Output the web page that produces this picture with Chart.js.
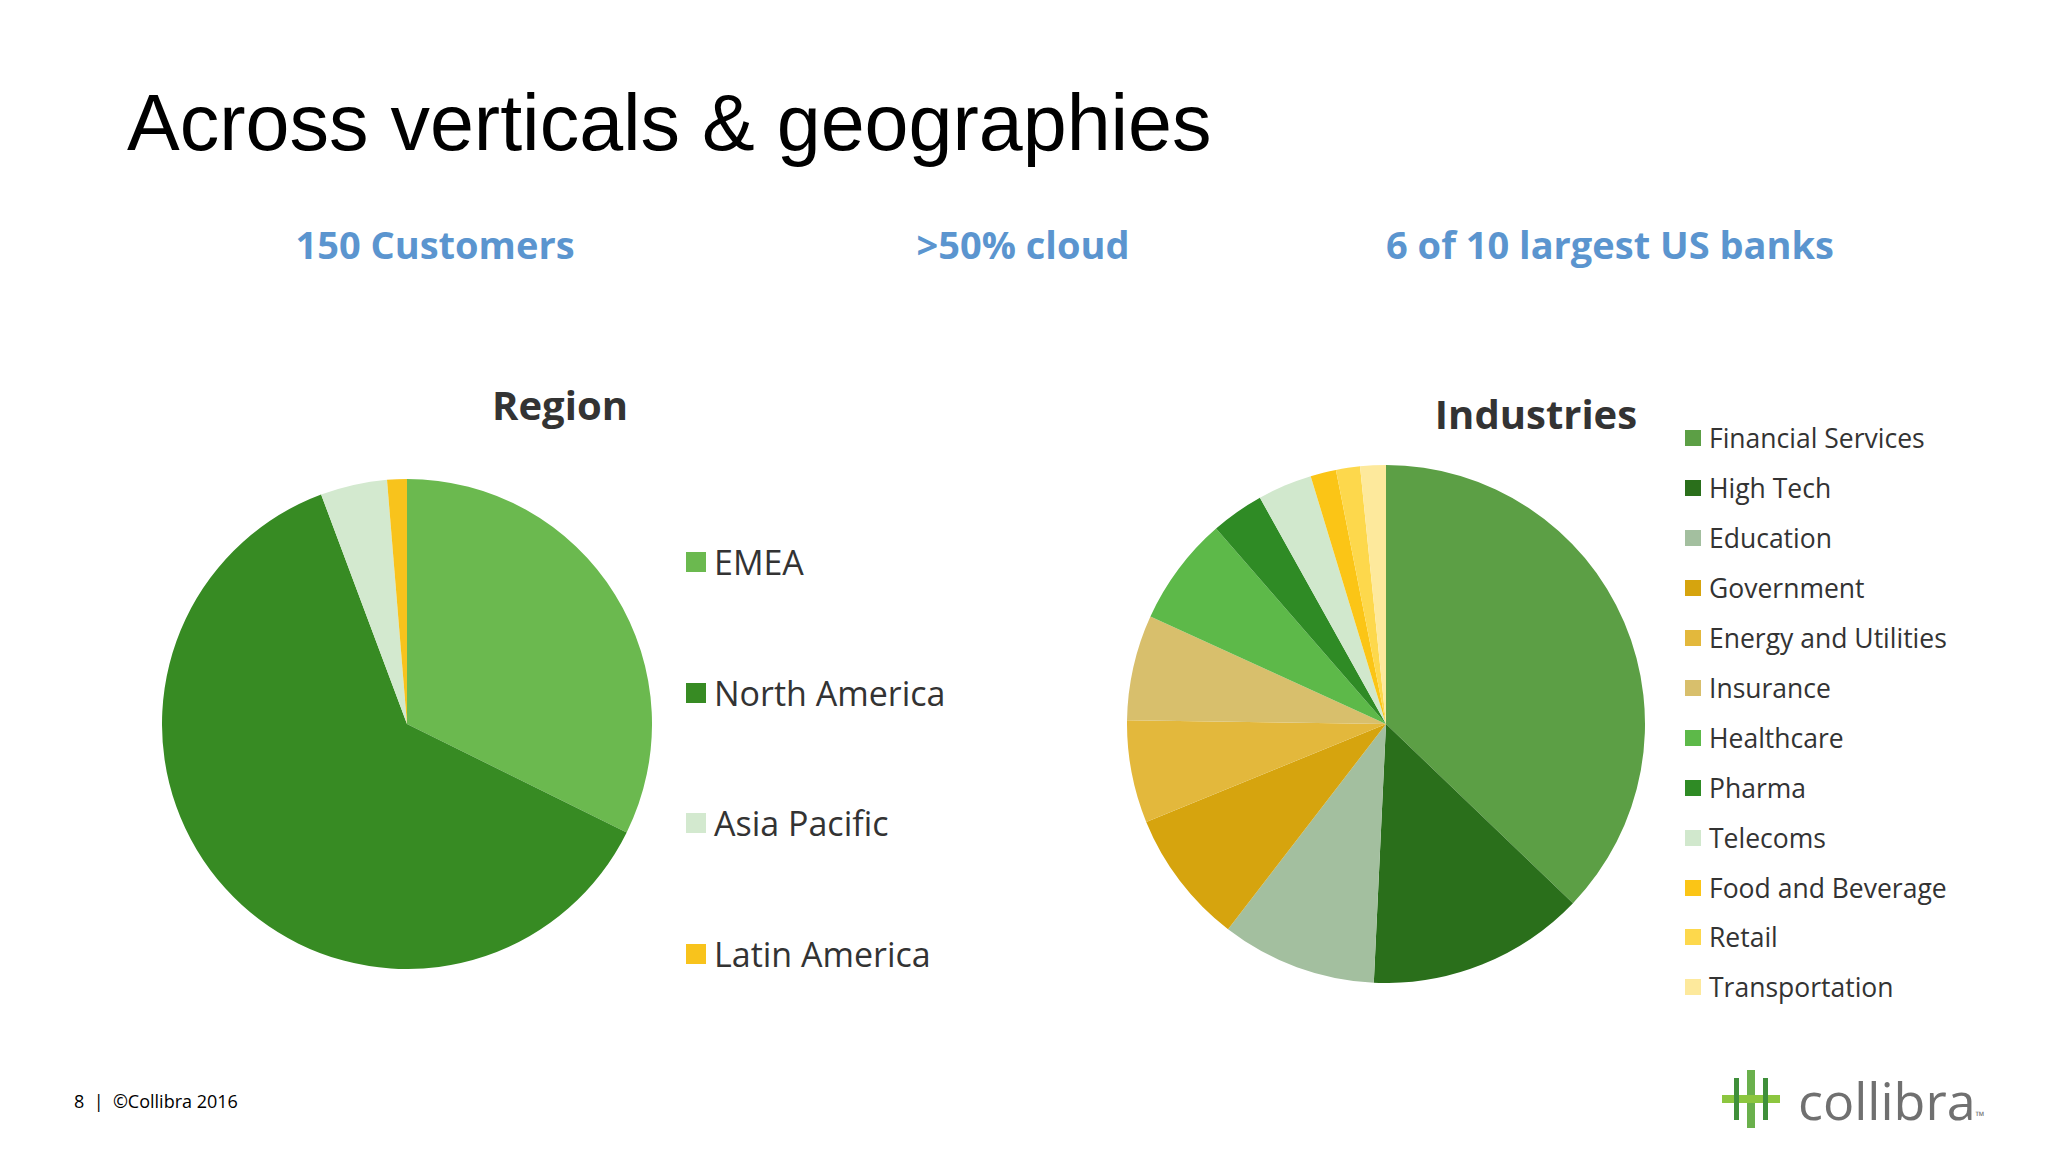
<!DOCTYPE html>
<html lang="en">
<head>
<meta charset="UTF-8">
<title>Across verticals &amp; geographies</title>
<script src="https://cdn.jsdelivr.net/npm/chart.js"></script>
<style>
  body { margin:0; width:2048px; height:1152px; background:#fff; position:relative; overflow:hidden; font-family:"Open Sans", sans-serif; }
  .abs { position:absolute; }
  h1 { position:absolute; left:127px; top:77px; margin:0; font-family:"Liberation Sans", Arial, sans-serif; font-weight:normal; font-size:79px; color:#000; }
  .sub { position:absolute; top:218px; transform:translateX(-50%); font-weight:bold; font-size:38px; color:#5b95cf; white-space:nowrap; }
  .ptitle { position:absolute; transform:translate(-50%,-50%); font-weight:bold; color:#333; white-space:nowrap; }
  .leg { position:absolute; display:flex; align-items:center; color:#333; white-space:nowrap; }
  .sw { display:inline-block; margin-right:8px; }
</style>
</head>
<body>
<h1>Across verticals &amp; geographies</h1>
<div class="sub" style="left:435px">150 Customers</div>
<div class="sub" style="left:1023px">&gt;50% cloud</div>
<div class="sub" style="left:1610px">6 of 10 largest US banks</div>

<div class="ptitle" style="left:560px; top:404px; font-size:40px">Region</div>
<div class="ptitle" style="left:1536px; top:413px; font-size:40px">Industries</div>

<div class="abs" style="left:162px; top:479px; width:490px; height:490px"><canvas id="regionChart"></canvas></div>
<div class="abs" style="left:1127px; top:465px; width:518px; height:518px"><canvas id="industryChart"></canvas></div>
<div id="regionLegend"></div>
<div id="industryLegend"></div>

<div class="abs" style="left:74px; top:1089px; font-size:18px; color:#000">8 &nbsp;| &nbsp;©Collibra 2016</div>
<div class="abs" style="left:1722px; top:1070px; width:58px; height:58px">
  <div class="abs" style="left:25px; top:0; width:8px; height:58px; background:#6ab04c"></div>
  <div class="abs" style="left:0; top:25px; width:58px; height:8px; background:#8cc63f"></div>
  <div class="abs" style="left:12px; top:8px; width:5px; height:42px; background:#3f8f3a"></div>
  <div class="abs" style="left:41px; top:8px; width:5px; height:42px; background:#3f8f3a"></div>
</div>
<div class="abs" style="left:1798px; top:1064px; font-size:52px; color:#707070">collibra<span style="font-size:12px">™</span></div>

<script>
const regionLabels = ['EMEA', 'North America', 'Asia Pacific', 'Latin America'];
const regionValues = [32.3, 62.0, 4.4, 1.3];
const regionColors = ['#6bb94f', '#378b23', '#d3e9cf', '#f8c31c'];

const industryLabels = ['Financial Services', 'High Tech', 'Education', 'Government', 'Energy and Utilities',
  'Insurance', 'Healthcare', 'Pharma', 'Telecoms', 'Food and Beverage', 'Retail', 'Transportation'];
const industryValues = [37.2, 13.6, 9.7, 8.4, 6.4, 6.6, 6.8, 3.3, 3.4, 1.6, 1.5, 1.6];
const industryColors = ['#5c9f45', '#2a6f1b', '#a3bf9f', '#d6a40e', '#e3b83c', '#d8bf6c',
  '#5db949', '#2f8b25', '#d1e8cd', '#fbc516', '#fdd84c', '#fde99c'];

function pie(id, labels, values, colors) {
  new Chart(document.getElementById(id), {
    type: 'pie',
    data: { labels: labels, datasets: [{ data: values, backgroundColor: colors, borderWidth: 0 }] },
    options: {
      responsive: true, maintainAspectRatio: false, animation: false,
      plugins: { legend: { display: false }, tooltip: { enabled: false } }
    }
  });
}
pie('regionChart', regionLabels, regionValues, regionColors);
pie('industryChart', industryLabels, industryValues, industryColors);

function legend(id, labels, colors, x, y0, step, fontSize, sw) {
  const box = document.getElementById(id);
  labels.forEach((l, i) => {
    const d = document.createElement('div');
    d.className = 'leg';
    d.style.left = x + 'px';
    d.style.top = (y0 + i * step - fontSize * 0.7) + 'px';
    d.style.fontSize = fontSize + 'px';
    d.innerHTML = '<span class="sw" style="width:' + sw + 'px;height:' + sw + 'px;background:' + colors[i] + '"></span>' + l;
    box.appendChild(d);
  });
}
legend('regionLegend', regionLabels, regionColors, 686, 563, 130.5, 34, 20);
legend('industryLegend', industryLabels, industryColors, 1685, 439, 49.9, 26.5, 16);
</script>
</body>
</html>
